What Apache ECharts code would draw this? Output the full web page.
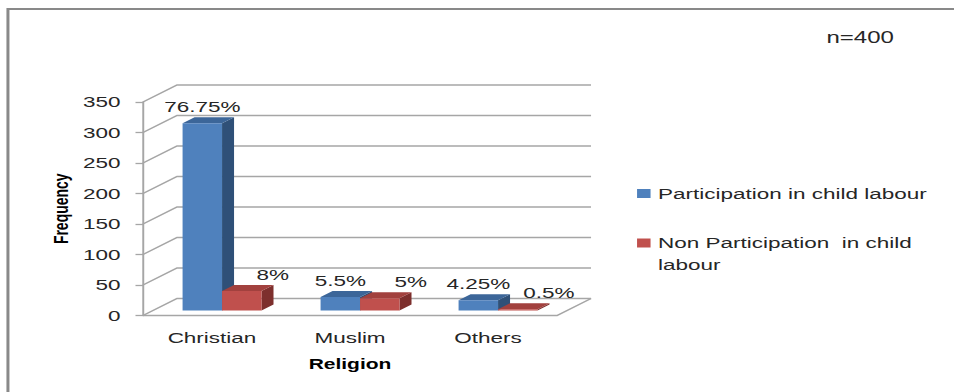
<!DOCTYPE html>
<html>
<head>
<meta charset="utf-8">
<script src="https://cdn.jsdelivr.net/npm/echarts@6/dist/echarts.min.js"></script>
<style>
  html, body { margin: 0; padding: 0; background: #fff; overflow: hidden; }
  #main { width: 636px; height: 392px; transform: scaleX(1.5); transform-origin: 0 0; }
</style>
</head>
<body>
<div id="main"></div>
<script>
// ---- data ----
const categories = ['Christian', 'Muslim', 'Others'];
const participation = [307, 22, 17];
const nonParticipation = [32, 20, 2];
const yTicks = [0, 50, 100, 150, 200, 250, 300, 350];
const sampleSize = 400;
const seriesNames = ['Participation in child labour', 'Non Participation  in child labour'];

// ---- style ----
const FONT = 'Liberation Sans, Arial, sans-serif';
const TXT = '#262626';
const GRIDC = '#a6a6a6';
const WALL_DX = 22.7, WALL_DY = -17;   // full depth of the 3D box
const SHIFT_X = 6.7, SHIFT_Y = -5;     // bars sit inside the box
const BAR_DX = 8, BAR_DY = -6;         // bar depth
const palettes = [
  { front: '#4F81BD', top: '#3C6699', side: '#2F5078' },
  { front: '#C0504D', top: '#A2413E', side: '#7D2F2D' }
];
const labelDx = [0, 20.7];

function pct(v) { return (Math.round(v / sampleSize * 10000) / 100) + '%'; }

function wallRenderer(params, api) {
  const cs = params.coordSys;
  const left = cs.x, right = cs.x + cs.width;
  const v = api.value(1);
  const y = api.coord([0, v])[1];
  const children = [{
    type: 'polyline',
    shape: { points: [[left, y], [left + WALL_DX, y + WALL_DY], [right + WALL_DX, y + WALL_DY]] },
    style: { stroke: GRIDC, lineWidth: 1.3, fill: null }
  }];
  if (v === 0) {
    children.push({
      type: 'polyline',
      shape: { points: [[left, y], [right, y], [right + WALL_DX, y + WALL_DY]] },
      style: { stroke: GRIDC, lineWidth: 1.3, fill: null }
    });
  }
  return { type: 'group', silent: true, children: children };
}

function barRenderer(slot) {
  const pal = palettes[slot];
  return function (params, api) {
    const cat = api.value(0), v = api.value(1);
    const top = api.coord([cat, v]);
    const base = api.coord([cat, 0]);
    const band = api.size([1, 0])[0];
    const w = band * 0.286;
    const x0 = top[0] - w + slot * w + SHIFT_X;
    const x1 = x0 + w;
    const yt = top[1] + SHIFT_Y, yb = base[1] + SHIFT_Y;
    return {
      type: 'group',
      children: [
        { type: 'polygon', shape: { points: [[x1, yt], [x1 + BAR_DX, yt + BAR_DY], [x1 + BAR_DX, yb + BAR_DY], [x1, yb]] }, style: { fill: pal.side } },
        { type: 'polygon', shape: { points: [[x0, yt], [x1, yt], [x1 + BAR_DX, yt + BAR_DY], [x0 + BAR_DX, yt + BAR_DY]] }, style: { fill: pal.top } },
        { type: 'rect', shape: { x: x0, y: yt, width: w, height: Math.max(yb - yt, 0) }, style: { fill: pal.front } },
        { type: 'text', x: (x0 + x1) / 2 + labelDx[slot], y: yt - 16.5,
          style: { text: pct(v), fill: TXT, fontSize: 15, fontFamily: FONT, align: 'center', verticalAlign: 'middle' } }
      ]
    };
  };
}

const chart = echarts.init(document.getElementById('main'), null, { renderer: 'svg', width: 636, height: 392 });
chart.setOption({
  animation: false,
  backgroundColor: '#fff',
  color: [palettes[0].front, palettes[1].front],
  textStyle: { fontFamily: FONT },
  graphic: [{
    type: 'rect', silent: true,
    shape: { x: 5.3, y: 9, width: 900, height: 600 },
    style: { fill: 'none', stroke: '#898989', lineWidth: 2 }
  }],
  title: {
    text: 'n=400', left: 551, top: 30, padding: 0,
    textStyle: { fontSize: 16, fontWeight: 'normal', color: TXT, fontFamily: FONT }
  },
  legend: [{
    data: [seriesNames[0]],
    left: 424.7, top: 186, padding: 0,
    icon: 'rect', itemWidth: 9, itemHeight: 9, itemGap: 6,
    textStyle: { fontSize: 15, color: TXT, fontFamily: FONT }
  }, {
    data: [seriesNames[1]],
    left: 424.7, top: 210, padding: 0,
    icon: 'rect', itemWidth: 9, itemHeight: 9, itemGap: 6,
    formatter: function (name) { return ' \n' + name.replace(' in child labour', ' in child\nlabour'); },
    textStyle: { fontSize: 15, color: TXT, fontFamily: FONT, lineHeight: 22 }
  }],
  grid: { left: 95.33, top: 102, width: 276, height: 213.5 },
  xAxis: {
    type: 'category',
    data: categories,
    axisLine: { show: false },
    axisTick: { show: false },
    axisLabel: { fontSize: 15, color: TXT, margin: 15, fontFamily: FONT },
    name: 'Religion', nameLocation: 'middle', nameGap: 42,
    nameTextStyle: { fontSize: 14, fontWeight: 'bold', color: '#000', fontFamily: FONT }
  },
  yAxis: {
    type: 'value', min: 0, max: 350, interval: 50,
    splitLine: { show: false },
    axisLine: { show: true, lineStyle: { color: GRIDC, width: 1.3 } },
    axisTick: { show: true, length: 5, lineStyle: { color: GRIDC, width: 1.3 } },
    axisLabel: { fontSize: 15, color: TXT, margin: 15, fontFamily: FONT },
    name: 'Frequency', nameLocation: 'middle', nameGap: 48, nameRotate: 90,
    nameTextStyle: { fontSize: 14, fontWeight: 'bold', color: '#000', fontFamily: FONT }
  },
  series: [{
    type: 'custom', name: 'walls', silent: true, z: 1,
    renderItem: wallRenderer,
    encode: { x: 0, y: 1 },
    data: yTicks.map(function (v) { return [0, v]; })
  }, {
    type: 'custom', name: seriesNames[0], z: 2,
    itemStyle: { color: palettes[0].front },
    renderItem: barRenderer(0),
    encode: { x: 0, y: 1 },
    data: participation.map(function (v, i) { return [i, v]; })
  }, {
    type: 'custom', name: seriesNames[1], z: 2,
    itemStyle: { color: palettes[1].front },
    renderItem: barRenderer(1),
    encode: { x: 0, y: 1 },
    data: nonParticipation.map(function (v, i) { return [i, v]; })
  }]
});
</script>
</body>
</html>
